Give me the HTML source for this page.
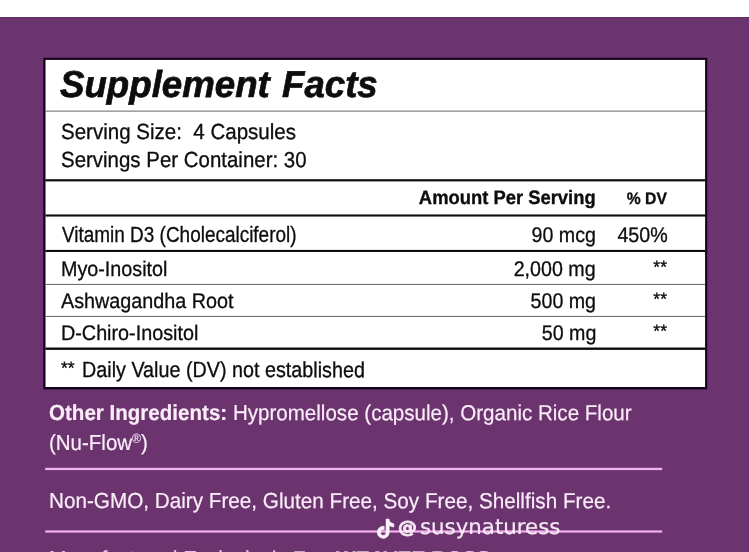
<!DOCTYPE html>
<html lang="en"><head><meta charset="utf-8"><title>Supplement Facts</title>
<style>
html,body{margin:0;padding:0;}
body{width:749px;height:552px;overflow:hidden;background:#fff;font-family:"Liberation Sans", sans-serif;position:relative;}
#bg{position:absolute;left:0;top:17px;width:749px;height:535px;background:#6b346e;}
.t{position:absolute;white-space:pre;line-height:1;}
.k{color:#0d0d0d;-webkit-text-stroke:0.3px #0d0d0d;}
.wm{color:#fdf2fd;opacity:.95;-webkit-text-stroke:0.2px #fdf2fd;}
.w{color:#fbecfa;-webkit-text-stroke:0.2px #fbecfa;}
.reg{font-size:12.5px;line-height:0;position:relative;top:-6.8px;-webkit-text-stroke:0.1px #fbecfa;}
</style></head><body>
<div id="bg"></div>
<svg id="frame" width="749" height="552" viewBox="0 0 749 552" style="position:absolute;left:0;top:0;" aria-hidden="true">
<rect x="0" y="17" width="749" height="1" fill="#5f3062"/>
<rect x="43.3" y="57.8" width="663.9" height="331.6" fill="#12001a"/>
<rect x="45.5" y="59.9" width="659.6" height="327.1" fill="#ffffff"/>
<rect x="45.4" y="110.6" width="659.7" height="1" fill="#666"/>
<rect x="45.4" y="179.2" width="659.7" height="2.2" fill="#0d0d0d"/>
<rect x="45.4" y="214.45" width="659.7" height="2.1" fill="#0d0d0d"/>
<rect x="45.4" y="249.9" width="659.7" height="2.1" fill="#0d0d0d"/>
<rect x="45.4" y="283.9" width="659.7" height="1" fill="#666"/>
<rect x="45.4" y="315.9" width="659.7" height="1" fill="#666"/>
<rect x="45.4" y="347.5" width="659.7" height="2.4" fill="#0d0d0d"/>
<rect x="45.2" y="467.8" width="617" height="2.3" fill="#f3b0ef"/>
<rect x="45.2" y="530.4" width="617" height="2.2" fill="#f3b0ef"/>
</svg>
<div class="t k" id="title" style="left:60.40px;top:66.32px;font-size:37px;font-weight:bold;font-style:italic;-webkit-text-stroke:0.7px #0d0d0d;transform:skewY(0.03deg) scale(0.9908,1.01);transform-origin:0 31.32px;">Supplement</div>
<div class="t k" id="title2" style="left:281.70px;top:66.35px;font-size:37px;font-weight:bold;font-style:italic;-webkit-text-stroke:0.7px #0d0d0d;transform:skewY(0.03deg) scale(0.9901,1.01);transform-origin:0 31.32px;">Facts</div>
<div class="t k" id="s1" style="left:61.00px;top:121.16px;font-size:21px;transform:skewY(0.03deg) scale(0.9773,1.04);transform-origin:0 17.78px;">Serving Size:  4 Capsules</div>
<div class="t k" id="s2" style="left:61.00px;top:149.06px;font-size:21px;transform:skewY(0.03deg) scale(0.9741,1.04);transform-origin:0 17.78px;">Servings Per Container: 30</div>
<div class="t k" id="h1" style="right:153.00px;top:188.26px;font-size:19px;font-weight:bold;-webkit-text-stroke:0.35px #0d0d0d;transform:skewY(0.03deg) scale(0.9679,1.02);transform-origin:100% 16.08px;">Amount Per Serving</div>
<div class="t k" id="h2" style="right:82.00px;top:190.77px;font-size:16px;font-weight:bold;-webkit-text-stroke:0.3px #0d0d0d;transform:skewY(0.03deg) scale(0.9827,1.04);transform-origin:100% 13.54px;">% DV</div>
<div class="t k" id="r1a" style="left:61.80px;top:223.76px;font-size:21px;transform:skewY(0.03deg) scale(0.9024,1.01);transform-origin:0 17.78px;">Vitamin D3 (Cholecalciferol)</div>
<div class="t k" id="r1b" style="right:153.00px;top:223.84px;font-size:21px;transform:skewY(0.03deg) scale(0.9350,1.01);transform-origin:100% 17.78px;">90 mcg</div>
<div class="t k" id="r1c" style="right:81.20px;top:223.84px;font-size:21px;transform:skewY(0.03deg) scale(0.9364,1.01);transform-origin:100% 17.78px;">450%</div>
<div class="t k" id="r2a" style="left:61.00px;top:257.80px;font-size:21px;transform:skewY(0.03deg) scale(0.9399,1.01);transform-origin:0 17.78px;">Myo-Inositol</div>
<div class="t k" id="r2b" style="right:153.00px;top:257.84px;font-size:21px;transform:skewY(0.03deg) scale(0.9353,1.01);transform-origin:100% 17.78px;">2,000 mg</div>
<div class="t k" id="r2c" style="right:82.00px;top:258.07px;font-size:18px;transform:skewY(0.03deg) scale(0.9775,1.0);transform-origin:100% 15.24px;">**</div>
<div class="t k" id="r3a" style="left:61.20px;top:289.78px;font-size:21px;transform:skewY(0.03deg) scale(0.9416,1.01);transform-origin:0 17.78px;">Ashwagandha Root</div>
<div class="t k" id="r3b" style="right:153.00px;top:289.84px;font-size:21px;transform:skewY(0.03deg) scale(0.9351,1.01);transform-origin:100% 17.78px;">500 mg</div>
<div class="t k" id="r3c" style="right:82.00px;top:290.07px;font-size:18px;transform:skewY(0.03deg) scale(0.9775,1.0);transform-origin:100% 15.24px;">**</div>
<div class="t k" id="r4a" style="left:61.30px;top:321.79px;font-size:21px;transform:skewY(0.03deg) scale(0.9412,1.01);transform-origin:0 17.78px;">D-Chiro-Inositol</div>
<div class="t k" id="r4b" style="right:153.00px;top:321.84px;font-size:21px;transform:skewY(0.03deg) scale(0.9353,1.01);transform-origin:100% 17.78px;">50 mg</div>
<div class="t k" id="r4c" style="right:82.00px;top:322.07px;font-size:18px;transform:skewY(0.03deg) scale(0.9775,1.0);transform-origin:100% 15.24px;">**</div>
<div class="t k" id="fna" style="left:60.90px;top:359.46px;font-size:18px;transform:skewY(0.03deg) scale(0.9775,1.0);transform-origin:0 15.24px;">**</div>
<div class="t k" id="fn" style="left:82.10px;top:359.05px;font-size:21px;transform:skewY(0.03deg) scale(0.9406,1.04);transform-origin:0 17.78px;">Daily Value (DV) not established</div>
<div class="t w" id="o1" style="left:48.90px;top:402.17px;font-size:21px;transform:skewY(0.03deg) scale(0.9789,1.04);transform-origin:0 17.78px;"><b>Other Ingredients:</b> Hypromellose (capsule), Organic Rice Flour</div>
<div class="t w" id="o2" style="left:48.60px;top:432.30px;font-size:21px;transform:skewY(0.03deg) scale(0.9754,1.04);transform-origin:0 17.78px;">(Nu-Flow<span class="reg">®</span>)</div>
<div class="t w" id="o3" style="left:48.80px;top:489.88px;font-size:21px;transform:skewY(0.03deg) scale(0.9851,1.04);transform-origin:0 17.78px;">Non-GMO, Dairy Free, Gluten Free, Soy Free, Shellfish Free.</div>
<div class="t wm" id="wm1" style="left:398.30px;top:518.35px;font-size:18.6px;font-weight:bold;-webkit-text-stroke:0.9px #fdf2fd;font-family:'DejaVu Sans',sans-serif;transform:skewY(0.03deg) scale(1.0165,0.92);transform-origin:0 15.74px;">@</div>
<div class="t wm" id="wm2" style="left:420.00px;top:515.92px;font-size:21.2px;font-family:'DejaVu Sans',sans-serif;transform:skewY(0.03deg) scale(1.0060,1.0);transform-origin:0 17.95px;">susynaturess</div>
<div class="t w" id="o4" style="left:49.20px;top:548.26px;font-size:21px;opacity:.8;transform:skewY(0.03deg) scale(0.9997,1.04);transform-origin:0 17.78px;">Manufactured Exclusively For: <b>WEAVEE BOSS</b></div>
<svg id="tt" viewBox="0 0 24 24" style="position:absolute;left:376.2px;top:519.0px;width:19.2px;height:19.4px;overflow:visible;" preserveAspectRatio="none" aria-hidden="true"><path fill="#fdf2fd" stroke="#fdf2fd" stroke-width="0.6" stroke-linejoin="round" d="M12.525.02c1.31-.02 2.61-.01 3.91-.02.08 1.53.63 3.09 1.75 4.17 1.12 1.11 2.7 1.62 4.24 1.79v4.03c-1.44-.05-2.89-.35-4.2-.97-.57-.26-1.1-.59-1.62-.93-.01 2.92.01 5.84-.02 8.75-.08 1.4-.54 2.79-1.35 3.94-1.31 1.92-3.58 3.17-5.91 3.21-1.43.08-2.86-.31-4.08-1.03-2.02-1.19-3.44-3.37-3.65-5.71-.02-.5-.03-1-.01-1.49.18-1.9 1.12-3.72 2.58-4.96 1.66-1.44 3.98-2.13 6.15-1.72.02 1.48-.04 2.96-.04 4.44-.99-.32-2.15-.23-3.02.37-.63.41-1.11 1.04-1.36 1.75-.21.51-.15 1.07-.14 1.61.24 1.64 1.82 3.02 3.5 2.87 1.12-.01 2.19-.66 2.77-1.61.19-.33.4-.67.41-1.06.1-1.79.06-3.57.07-5.36.01-4.03-.01-8.05.02-12.07z"/></svg>
</body></html>
